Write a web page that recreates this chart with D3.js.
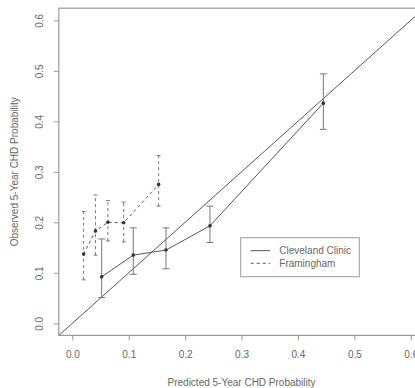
<!DOCTYPE html>
<html>
<head>
<meta charset="utf-8">
<script src="https://cdn.jsdelivr.net/npm/d3@7"></script>
<style>
  body { margin: 0; background: #fff; }
  svg { display: block; font-family: "Liberation Sans", Arial, sans-serif; }
</style>
</head>
<body>
<div id="chart"></div>
<script>
// Cleveland Clinic (solid)
var clevX = [0.052, 0.108, 0.166, 0.244, 0.445]
var clevY = [0.092, 0.135, 0.145, 0.193, 0.436]
var clevLo = [0.051, 0.097, 0.108, 0.160, 0.384]
var clevHi = [0.167, 0.189, 0.189, 0.232, 0.494]

// Framingham (dashed)
var framX = [0.020, 0.041, 0.063, 0.091, 0.153]
var framY = [0.137, 0.183, 0.200, 0.199, 0.275]
var framLo = [0.086, 0.135, 0.163, 0.161, 0.232]
var framHi = [0.221, 0.254, 0.243, 0.240, 0.332]

var ticks = [0, 0.1, 0.2, 0.3, 0.4, 0.5, 0.6]
var legendLabels = ['Cleveland Clinic', 'Framingham']

var width = 415
var height = 388
var plot = { left: 58.8, right: 424.3, top: 8.2, bottom: 335.4 }
var ink = '#555'
var textInk = '#666'

var svg = d3.select('#chart').append('svg')
  .attr('width', width)
  .attr('height', height)

var x = d3.scaleLinear().domain([-0.024, 0.624]).range([plot.left, plot.right])
var y = d3.scaleLinear().domain([-0.024, 0.624]).range([plot.bottom, plot.top])

svg.append('clipPath').attr('id', 'clip')
  .append('rect')
    .attr('x', plot.left).attr('y', plot.top)
    .attr('width', plot.right - plot.left).attr('height', plot.bottom - plot.top)

// diagonal reference line
svg.append('line')
  .attr('clip-path', 'url(#clip)')
  .attr('x1', x(-0.024)).attr('y1', y(-0.024))
  .attr('x2', x(0.624)).attr('y2', y(0.624))
  .attr('stroke', ink).attr('stroke-width', 1)

function series(xs, ys, lo, hi, dash, cap) {
  var pts = xs.map(function (v, i) { return { x: v, y: ys[i], lo: lo[i], hi: hi[i] } })
  var g = svg.append('g')

  g.append('path')
    .datum(pts)
    .attr('fill', 'none')
    .attr('stroke', ink)
    .attr('stroke-width', 1)
    .attr('stroke-dasharray', dash)
    .attr('d', d3.line().x(function (d) { return x(d.x) }).y(function (d) { return y(d.y) }))

  var bars = g.selectAll('g.bar').data(pts).enter().append('g').attr('class', 'bar')
  bars.append('line')
    .attr('x1', function (d) { return x(d.x) }).attr('x2', function (d) { return x(d.x) })
    .attr('y1', function (d) { return y(d.lo) }).attr('y2', function (d) { return y(d.hi) })
    .attr('stroke', '#777').attr('stroke-width', 1)
    .attr('stroke-dasharray', dash)
  ;['lo', 'hi'].forEach(function (k) {
    bars.append('line')
      .attr('x1', function (d) { return x(d.x) - cap }).attr('x2', function (d) { return x(d.x) + cap })
      .attr('y1', function (d) { return y(d[k]) }).attr('y2', function (d) { return y(d[k]) })
      .attr('stroke', '#777').attr('stroke-width', 1)
  })

  g.selectAll('circle').data(pts).enter().append('circle')
    .attr('cx', function (d) { return x(d.x) })
    .attr('cy', function (d) { return y(d.y) })
    .attr('r', 1.8)
    .attr('fill', '#333')
}

series(clevX, clevY, clevLo, clevHi, null, 3.5)
series(framX, framY, framLo, framHi, '3,3', 2)

// box
svg.append('rect')
  .attr('x', plot.left).attr('y', plot.top)
  .attr('width', plot.right - plot.left).attr('height', plot.bottom - plot.top)
  .attr('fill', 'none').attr('stroke', '#999').attr('stroke-width', 1.2)

// axes
var gX = svg.append('g')
  .attr('transform', 'translate(0,' + plot.bottom + ')')
  .call(d3.axisBottom(x).tickValues(ticks).tickFormat(d3.format('.1f')).tickSize(5).tickPadding(11))
var gY = svg.append('g')
  .attr('transform', 'translate(' + plot.left + ',0)')
  .call(d3.axisLeft(y).tickValues(ticks).tickFormat(d3.format('.1f')).tickSize(5))

;[gX, gY].forEach(function (g) {
  g.select('.domain').remove()
  g.selectAll('.tick line').attr('stroke', '#999')
  g.selectAll('.tick text').attr('fill', textInk).style('font-size', '10px')
    .style('font-family', '"Liberation Sans", Arial, sans-serif')
})
gY.selectAll('.tick text')
  .attr('x', null).attr('dy', null)
  .attr('text-anchor', 'middle')
  .attr('transform', 'translate(-19,0) rotate(-90)')
  .attr('dy', '0.35em')

// axis titles
svg.append('text')
  .attr('x', (plot.left + plot.right) / 2).attr('y', 386)
  .attr('text-anchor', 'middle')
  .attr('fill', textInk).style('font-size', '10px')
  .text('Predicted 5-Year CHD Probability')

svg.append('text')
  .attr('transform', 'translate(18,' + (plot.top + plot.bottom) / 2 + ') rotate(-90)')
  .attr('text-anchor', 'middle')
  .attr('fill', textInk).style('font-size', '10px')
  .text('Observed 5-Year CHD Probability')

// legend
var legend = svg.append('g').attr('transform', 'translate(240.7,237.7)')
legend.append('rect')
  .attr('width', 118.6).attr('height', 39)
  .attr('fill', '#fff').attr('stroke', '#999').attr('stroke-width', 1)
legend.selectAll('g.item').data(legendLabels).enter().append('g')
  .attr('class', 'item')
  .attr('transform', function (d, i) { return 'translate(0,' + (13 + i * 12.6) + ')' })
  .each(function (d, i) {
    var it = d3.select(this)
    it.append('line')
      .attr('x1', 10).attr('x2', 29.5)
      .attr('stroke', ink).attr('stroke-width', 1)
      .attr('stroke-dasharray', i === 1 ? '3,3' : null)
    it.append('text')
      .attr('x', 38.6).attr('dy', '0.35em')
      .attr('fill', textInk).style('font-size', '10px')
      .text(d)
  })
</script>
</body>
</html>
